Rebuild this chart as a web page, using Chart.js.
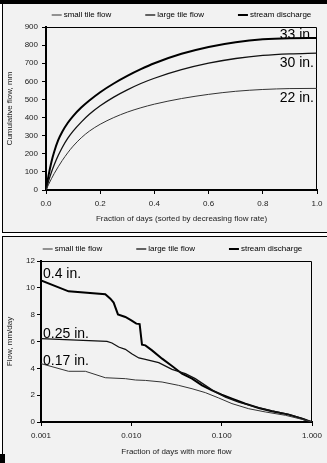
<!DOCTYPE html>
<html>
<head>
<meta charset="utf-8">
<script src="https://cdn.jsdelivr.net/npm/chart.js@4.4.1/dist/chart.umd.min.js"></script>
<style>
  html, body { margin: 0; padding: 0; background: #fff; width: 327px; height: 463px; overflow: hidden; position: relative; }
  .bar { position: absolute; left: 0; top: 0; width: 327px; height: 4px; background: #000; }
  .panel { position: absolute; left: 2px; width: 340px; background: #f2f2f2; border-left: 1px solid #000; }
  #p1 { top: 4px; height: 228px; border-bottom: 1px solid #000; }
  #p2 { top: 236px; height: 240px; border-top: 1px solid #000; }
  canvas { position: absolute; left: 0; top: 0; }
  .corner { position: absolute; left: 0; top: 454px; width: 5px; height: 9px; background: #000; }
</style>
</head>
<body>
<div class="bar"></div>
<div class="panel" id="p1"><canvas id="cumChart" width="330" height="228"></canvas></div>
<div class="panel" id="p2"><canvas id="durChart" width="330" height="226"></canvas></div>
<div class="corner"></div>
<script>
// series names (shared by both charts)
const seriesNames = ['small tile flow', 'large tile flow', 'stream discharge'];

// top chart: cumulative flow vs fraction of days
const fracDays = [0, 0.01, 0.02, 0.03, 0.045, 0.06, 0.08, 0.1, 0.13, 0.16, 0.2, 0.25, 0.3, 0.35, 0.4, 0.5, 0.6, 0.7, 0.8, 0.9, 1.0];
const smallCum  = [0, 32, 62, 90, 128, 163, 205, 242, 288, 325, 363, 400, 430, 454, 474, 505, 528, 545, 555, 560, 561];
const largeCum  = [0, 52, 98, 138, 190, 235, 285, 325, 375, 418, 465, 513, 553, 588, 617, 664, 700, 726, 743, 752, 756];
const streamCum = [0, 85, 155, 210, 275, 322, 370, 408, 455, 494, 540, 588, 630, 667, 700, 752, 790, 816, 832, 838, 839];
const cumNotes = ['22 in.', '30 in.', '33 in.'];
const cumTicks = [0, 0.2, 0.4, 0.6, 0.8, 1.0];

// bottom chart: flow duration (log x)
const smallDurX = [0.001, 0.00202, 0.0031, 0.00515, 0.00859, 0.0111, 0.0143, 0.0219, 0.0334, 0.047, 0.0659, 0.0927, 0.13, 0.199, 0.304, 0.507, 0.775, 1.0];
const smallDurY = [4.35, 3.78, 3.78, 3.3, 3.23, 3.13, 3.1, 2.98, 2.73, 2.48, 2.19, 1.79, 1.37, 0.99, 0.75, 0.5, 0.2, 0];
const largeDurX = [0.001, 0.00538, 0.0061, 0.00724, 0.00859, 0.0101, 0.0121, 0.0143, 0.0201, 0.0282, 0.0396, 0.051, 0.0659, 0.0851, 0.11, 0.154, 0.236, 0.36, 0.552, 0.843, 1.0];
const largeDurY = [6.21, 6.01, 5.89, 5.59, 5.42, 5.09, 4.77, 4.67, 4.42, 3.93, 3.6, 3.23, 2.73, 2.24, 1.86, 1.49, 1.12, 0.82, 0.57, 0.2, 0];
const streamDurX = [0.001, 0.00202, 0.00515, 0.00586, 0.00637, 0.00711, 0.00859, 0.01, 0.01135, 0.01236, 0.01312, 0.0143, 0.01694, 0.0219, 0.0282, 0.0364, 0.047, 0.0606, 0.0782, 0.1, 0.13, 0.183, 0.257, 0.36, 0.552, 0.775, 0.918, 1.0];
const streamDurY = [10.56, 9.74, 9.52, 9.19, 8.9, 8.02, 7.83, 7.58, 7.33, 7.3, 5.76, 5.71, 5.34, 4.72, 4.17, 3.6, 3.23, 2.73, 2.36, 2.04, 1.74, 1.37, 1.04, 0.8, 0.55, 0.25, 0.05, 0];
const durNotes = ['0.17 in.', '0.25 in.', '0.4 in.'];
const durTicks = [0.001, 0.01, 0.1, 1];

const FONT = '"Liberation Sans", Arial, sans-serif';
const small = { family: FONT, size: 8 };
const lineStyles = [
  { color: '#333', width: 1 },
  { color: '#111', width: 1.3 },
  { color: '#000', width: 2 }
];

const zip = (xs, ys) => xs.map((x, i) => ({ x, y: ys[i] }));

// legend drawn as short lines + text, centered over the plot
const lineLegend = {
  id: 'lineLegend',
  afterDraw(chart, args, opts) {
    const { ctx, chartArea } = chart;
    ctx.save();
    ctx.font = '8px ' + FONT;
    ctx.textBaseline = 'middle';
    const items = chart.data.datasets.map(ds => ({
      text: ds.label, w: ctx.measureText(ds.label).width, lw: ds.borderWidth, color: ds.borderColor
    }));
    const lineLen = 10, gap = 2;
    const total = items.reduce((s, it) => s + lineLen + gap + it.w, 0) + opts.spacing * (items.length - 1);
    let x = (chartArea.left + chartArea.right) / 2 + opts.shift - total / 2;
    items.forEach(it => {
      ctx.strokeStyle = it.color;
      ctx.lineWidth = it.lw;
      ctx.beginPath();
      ctx.moveTo(x, opts.y);
      ctx.lineTo(x + lineLen, opts.y);
      ctx.stroke();
      ctx.fillStyle = '#000';
      ctx.fillText(it.text, x + lineLen + gap, opts.y);
      x += lineLen + gap + it.w + opts.spacing;
    });
    ctx.restore();
  }
};

// text notes next to the end (or start) of each line
const notes = {
  id: 'notes',
  afterDatasetsDraw(chart, args, opts) {
    const { ctx, chartArea } = chart;
    ctx.save();
    ctx.font = '14px ' + FONT;
    ctx.fillStyle = '#000';
    ctx.textBaseline = 'alphabetic';
    opts.texts.forEach((t, i) => {
      const pts = chart.getDatasetMeta(i).data;
      if (opts.at === 'last') {
        ctx.textAlign = 'right';
        ctx.fillText(t, chartArea.right - 3, pts[pts.length - 1].y + opts.dy[i]);
      } else {
        ctx.textAlign = 'left';
        ctx.fillText(t, chartArea.left + 2, pts[0].y + opts.dy[i]);
      }
    });
    ctx.restore();
  }
};

// thin top and right frame of the plot area
const frame = {
  id: 'frame',
  beforeDatasetsDraw(chart) {
    const { ctx, chartArea: { left, top, right, bottom } } = chart;
    ctx.save();
    ctx.strokeStyle = '#000';
    ctx.lineWidth = 1;
    ctx.beginPath();
    ctx.moveTo(left, top + 0.5);
    ctx.lineTo(right - 0.5, top + 0.5);
    ctx.lineTo(right - 0.5, bottom);
    ctx.stroke();
    ctx.restore();
  }
};

function makeSets(seriesData, smooth) {
  return seriesData.map((d, i) => ({
    label: seriesNames[i],
    data: d,
    borderColor: lineStyles[i].color,
    borderWidth: lineStyles[i].width,
    pointRadius: 0,
    fill: false,
    cubicInterpolationMode: smooth ? 'monotone' : 'default',
    tension: 0
  }));
}

const axisCommon = {
  grid: { drawOnChartArea: false, tickLength: 4, color: '#000', lineWidth: 1 },
  border: { color: '#000', width: 2 }
};

new Chart(document.getElementById('cumChart'), {
  type: 'line',
  data: {
    datasets: makeSets([zip(fracDays, smallCum), zip(fracDays, largeCum), zip(fracDays, streamCum)], true)
  },
  options: {
    responsive: false,
    animation: false,
    layout: { padding: { top: 23, right: 16, bottom: 0, left: 0 } },
    plugins: {
      legend: { display: false },
      tooltip: { enabled: false },
      lineLegend: { y: 11, spacing: 34, shift: 0 },
      notes: { texts: cumNotes, at: 'last', dy: [13.5, 13.5, 0.5] }
    },
    scales: {
      x: {
        ...axisCommon,
        type: 'linear', min: 0, max: 1,
        afterFit: s => { s.height = 42; },
        afterBuildTicks: s => { s.ticks = cumTicks.map(v => ({ value: v })); },
        ticks: { font: small, color: '#222', padding: 5, maxRotation: 0, autoSkip: false, callback: v => v.toFixed(1) },
        title: { display: true, text: 'Fraction of days (sorted by decreasing flow rate)', font: small, color: '#222', padding: { top: 0, bottom: 8 } }
      },
      y: {
        ...axisCommon,
        min: 0, max: 900,
        afterFit: s => { s.width = 43; },
        ticks: { stepSize: 100, font: small, color: '#222', padding: 4 },
        title: { display: true, text: 'Cumulative flow, mm', font: small, color: '#222', padding: { top: 2, bottom: 0 } }
      }
    }
  },
  plugins: [lineLegend, notes, frame]
});

new Chart(document.getElementById('durChart'), {
  type: 'line',
  data: {
    datasets: makeSets([zip(smallDurX, smallDurY), zip(largeDurX, largeDurY), zip(streamDurX, streamDurY)], false)
  },
  options: {
    responsive: false,
    animation: false,
    layout: { padding: { top: 24, right: 21, bottom: 0, left: 0 } },
    plugins: {
      legend: { display: false },
      tooltip: { enabled: false },
      lineLegend: { y: 12, spacing: 34, shift: -4 },
      notes: { texts: durNotes, at: 'first', dy: [1.5, -0.5, -2] }
    },
    scales: {
      x: {
        ...axisCommon,
        type: 'logarithmic', min: 0.001, max: 1,
        afterFit: s => { s.height = 41; },
        afterBuildTicks: s => { s.ticks = durTicks.map(v => ({ value: v })); },
        ticks: { font: small, color: '#222', padding: 5, maxRotation: 0, autoSkip: false, callback: v => Number(v).toFixed(3) },
        title: { display: true, text: 'Fraction of days with more flow', font: small, color: '#222', padding: { top: 0, bottom: 6 } }
      },
      y: {
        ...axisCommon,
        min: 0, max: 12,
        afterFit: s => { s.width = 38; },
        ticks: { stepSize: 2, font: small, color: '#222', padding: 2 },
        title: { display: true, text: 'Flow, mm/day', font: small, color: '#222', padding: { top: 2, bottom: 0 } }
      }
    }
  },
  plugins: [lineLegend, notes, frame]
});
</script>
</body>
</html>
